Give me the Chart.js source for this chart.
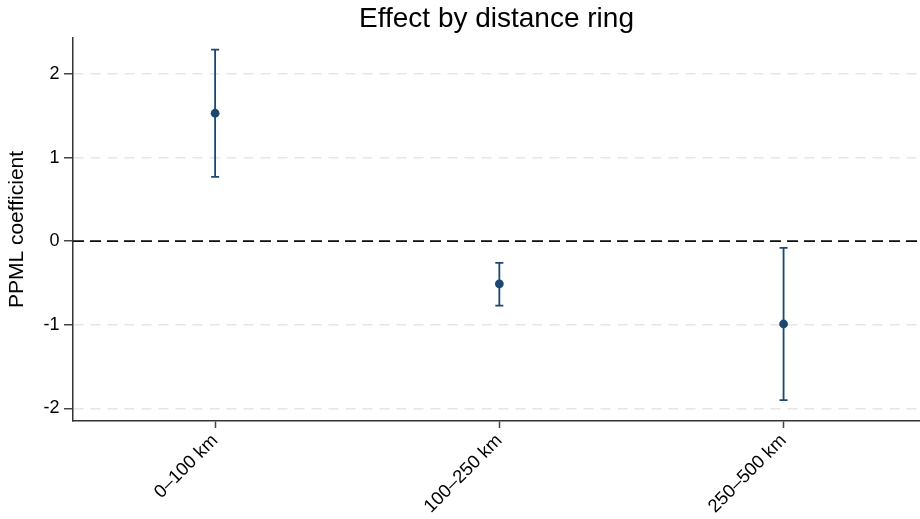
<!DOCTYPE html>
<html>
<head>
<meta charset="utf-8">
<script src="https://cdn.jsdelivr.net/npm/chart.js@4/dist/chart.umd.min.js"></script>
<style>
  html, body { margin: 0; padding: 0; background: #ffffff; overflow: hidden; }
  #wrap { width: 920px; height: 519px; position: relative; }
</style>
</head>
<body>
<div id="wrap"><canvas id="c"></canvas></div>
<script>
// ---- data ----
const categories = ['0–100 km', '100–250 km', '250–500 km'];
const coef  = [1.53, -0.51, -0.99];
const ciLow = [0.77, -0.77, -1.90];
const ciHigh = [2.29, -0.26, -0.08];
const yTickValues = [-2, -1, 0, 1, 2];
const refLineValue = 0;

const markColor = '#1c4870';

const errorBarPlugin = {
  id: 'errorBars',
  beforeDatasetsDraw(chart) {
    const {ctx, scales: {x, y}, chartArea} = chart;
    ctx.save();
    // reference line at zero
    const y0 = y.getPixelForValue(refLineValue);
    ctx.strokeStyle = '#111111';
    ctx.lineWidth = 1.8;
    ctx.setLineDash([11, 6]);
    ctx.beginPath();
    ctx.moveTo(chartArea.left, y0);
    ctx.lineTo(chartArea.right, y0);
    ctx.stroke();
    ctx.setLineDash([]);
    // error bars
    ctx.strokeStyle = markColor;
    ctx.lineWidth = 1.8;
    for (let i = 0; i < categories.length; i++) {
      const px = x.getPixelForValue(i + 1);
      const pLo = y.getPixelForValue(ciLow[i]);
      const pHi = y.getPixelForValue(ciHigh[i]);
      ctx.beginPath();
      ctx.moveTo(px, pLo); ctx.lineTo(px, pHi);
      ctx.moveTo(px - 4, pLo); ctx.lineTo(px + 4, pLo);
      ctx.moveTo(px - 4, pHi); ctx.lineTo(px + 4, pHi);
      ctx.stroke();
    }
    ctx.restore();
  }
};

new Chart(document.getElementById('c'), {
  type: 'scatter',
  data: {
    datasets: [{
      data: coef.map((v, i) => ({x: i + 1, y: v})),
      backgroundColor: markColor,
      borderColor: markColor,
      pointRadius: 4.4,
      pointHoverRadius: 4.4,
      borderWidth: 0
    }]
  },
  options: {
    responsive: true,
    maintainAspectRatio: false,
    animation: false,
    layout: { padding: 0, autoPadding: false },
    plugins: {
      legend: { display: false },
      tooltip: { enabled: false },
      title: {
        display: true,
        text: 'Effect by distance ring',
        fullSize: false,
        color: '#000000',
        font: { family: 'Liberation Sans, Arial, sans-serif', size: 28, weight: 'normal' },
        padding: { top: 2.5, bottom: 1.9 }
      }
    },
    scales: {
      x: {
        type: 'linear',
        min: 0.5,
        max: 3.48,
        afterFit(scale) { scale.height = 98; scale.paddingLeft = 0; scale.paddingRight = 0; },
        afterBuildTicks(scale) { scale.ticks = categories.map((c, i) => ({value: i + 1})); },
        ticks: {
          callback: (v) => categories[Math.round(v) - 1] || '',
          minRotation: 45,
          maxRotation: 45,
          autoSkip: false,
          color: '#000000',
          padding: 2,
          font: { family: 'Liberation Sans, Arial, sans-serif', size: 18.5 }
        },
        grid: {
          drawOnChartArea: false,
          drawTicks: true,
          tickLength: 7,
          tickColor: '#444444',
          tickWidth: 1.5
        },
        border: { display: true, color: '#333333', width: 1.5 }
      },
      y: {
        min: -2.15,
        max: 2.43,
        afterFit(scale) { scale.width = 73; scale.paddingTop = 0; scale.paddingBottom = 0; },
        afterBuildTicks(scale) { scale.ticks = yTickValues.map(v => ({value: v})); },
        ticks: {
          color: '#000000',
          padding: 4.5,
          font: { family: 'Liberation Sans, Arial, sans-serif', size: 18 }
        },
        title: {
          display: true,
          text: 'PPML coefficient',
          color: '#000000',
          padding: { top: 5, bottom: 0 },
          font: { family: 'Liberation Sans, Arial, sans-serif', size: 21 }
        },
        grid: {
          color: '#e6e6e6',
          lineWidth: 1.5,
          tickLength: 9,
          tickColor: '#444444',
          tickWidth: 1.5
        },
        border: { display: true, color: '#333333', width: 1.5, dash: [10, 7] }
      }
    }
  },
  plugins: [errorBarPlugin]
});
</script>
</body>
</html>
